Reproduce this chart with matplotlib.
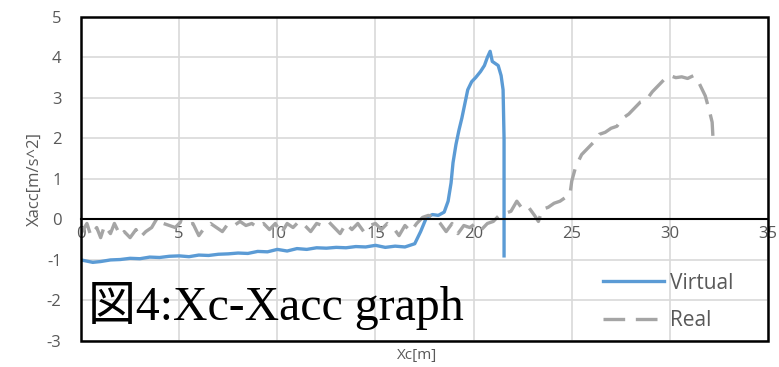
import matplotlib
matplotlib.use("Agg")
import matplotlib.pyplot as plt
from matplotlib.patches import Rectangle

# data
virtual_x = [0, 0.3, 0.6, 1.0, 1.5, 2.0, 2.5, 3.0, 3.5, 4.0, 4.5, 5.0, 5.5, 6.0, 6.5,
             7.0, 7.5, 8.0, 8.5, 9.0, 9.5, 10.0, 10.5, 11.0, 11.5, 12.0, 12.5, 13.0,
             13.5, 14.0, 14.5, 15.0, 15.5, 16.0, 16.5, 17.0, 17.3, 17.6, 17.9, 18.2,
             18.5, 18.7, 18.85, 18.95, 19.1, 19.25, 19.4, 19.55, 19.7, 19.9, 20.1,
             20.35, 20.55, 20.7, 20.84, 20.95, 21.1, 21.25, 21.4, 21.5, 21.55, 21.55]
virtual_y = [-1.0, -1.03, -1.06, -1.04, -1.0, -0.99, -0.96, -0.97, -0.93, -0.94, -0.91,
             -0.9, -0.92, -0.88, -0.89, -0.86, -0.85, -0.83, -0.84, -0.79, -0.8, -0.74,
             -0.78, -0.72, -0.74, -0.7, -0.71, -0.69, -0.7, -0.67, -0.68, -0.64, -0.69,
             -0.66, -0.68, -0.6, -0.3, 0.05, 0.12, 0.1, 0.18, 0.45, 0.9, 1.4, 1.85, 2.2,
             2.5, 2.85, 3.2, 3.4, 3.5, 3.65, 3.8, 4.0, 4.15, 3.9, 3.85, 3.8, 3.55, 3.2,
             2.0, -0.9]

real_x = [0.0, 0.3, 0.5, 0.8, 1.0, 1.2, 1.5, 1.7, 2.0, 2.2, 2.5, 2.8, 3.0, 3.3, 3.6,
          3.9, 4.2, 4.5, 4.8, 5.1, 5.4, 5.7, 6.0, 6.3, 6.6, 6.9, 7.2, 7.5, 7.8, 8.1,
          8.4, 8.7, 9.0, 9.3, 9.6, 9.9, 10.2, 10.5, 10.8, 11.1, 11.4, 11.7, 12.0, 12.3,
          12.6, 12.9, 13.2, 13.5, 13.8, 14.1, 14.4, 14.7, 15.0, 15.3, 15.6, 15.9, 16.2,
          16.5, 16.8, 17.1, 17.4, 17.7, 18.0, 18.3, 18.6, 18.9, 19.2, 19.5, 19.8, 20.1,
          20.4, 20.7, 21.0, 21.3, 21.6, 21.9, 22.2, 22.5, 22.8, 23.1, 23.3, 23.5, 23.8,
          24.1, 24.4, 24.7, 24.9, 25.0, 25.2, 25.5, 25.8, 26.1, 26.4, 26.7, 27.0, 27.3,
          27.6, 27.9, 28.2, 28.5, 28.8, 29.1, 29.4, 29.7, 30.0, 30.3, 30.6, 30.9, 31.2,
          31.5, 31.8, 32.0, 32.15, 32.2]
real_y = [-0.35, -0.1, -0.4, -0.2, -0.45, -0.15, -0.35, -0.1, -0.4, -0.3, -0.45, -0.25,
          -0.45, -0.3, -0.2, 0.05, -0.1, -0.15, -0.2, -0.05, -0.15, -0.1, -0.4, -0.2,
          -0.1, -0.2, -0.3, -0.1, -0.15, -0.05, -0.15, -0.1, -0.2, -0.1, -0.25, -0.1,
          -0.35, -0.1, -0.2, -0.05, -0.15, -0.3, -0.1, -0.15, -0.05, -0.2, -0.35, -0.1,
          -0.25, -0.1, -0.3, -0.15, -0.1, -0.25, -0.1, -0.2, -0.4, -0.15, -0.3, -0.1,
          0.05, 0.1, 0.05, -0.1, -0.3, -0.1, -0.35, -0.15, -0.2, -0.1, -0.25, -0.1,
          -0.05, 0.1, 0.15, 0.2, 0.45, 0.25, 0.3, 0.1, -0.05, 0.25, 0.3, 0.4, 0.45,
          0.55, 0.6, 0.95, 1.3, 1.6, 1.75, 1.9, 2.1, 2.15, 2.25, 2.3, 2.5, 2.6, 2.75,
          2.9, 2.95, 3.15, 3.3, 3.45, 3.55, 3.5, 3.52, 3.48, 3.55, 3.35, 3.05, 2.7,
          2.4, 1.95]

x_ticks = [0, 5, 10, 15, 20, 25, 30, 35]
y_ticks = [-3, -2, -1, 0, 1, 2, 3, 4, 5]

gray_txt = "#595959"
tick_font = "Open Sans"
plt.rcParams["axes.unicode_minus"] = False

fig = plt.figure(figsize=(7.79, 3.67), dpi=100)
ax = fig.add_axes([0.104, 0.071, 0.882, 0.883])

ax.plot(virtual_x, virtual_y, color="#5B9BD5", lw=2.4, label="Virtual")
ax.plot(real_x, real_y, color="#A5A5A5", lw=2.4, dashes=(6.5, 3.2), label="Real")

ax.set_xlim(0, 35)
ax.set_ylim(-3, 5)
ax.set_xticks(x_ticks)
ax.set_yticks(y_ticks)
ax.grid(True, color="#D9D9D9", lw=1.2)
ax.set_axisbelow(True)

# x axis crosses at y = 0 like the Excel chart
ax.spines["bottom"].set_position(("data", 0))
ax.spines["bottom"].set_linewidth(1.5)
for s in ["top", "right", "left"]:
    ax.spines[s].set_visible(False)
ax.add_patch(Rectangle((0, 0), 1, 1, transform=ax.transAxes, fill=False,
                       ec="black", lw=1.8, clip_on=False, zorder=5))

ax.tick_params(axis="both", length=0, labelcolor=gray_txt, labelsize=12)
ax.tick_params(axis="x", pad=5)
ax.tick_params(axis="y", pad=14)
for lab in ax.get_xticklabels() + ax.get_yticklabels():
    lab.set_fontfamily(tick_font)

ax.set_ylabel("Xacc[m/s^2]", color=gray_txt, fontsize=12, family=tick_font, labelpad=3)
fig.text(0.535, 0.032, "Xc[m]", color=gray_txt, fontsize=11, family=tick_font,
         ha="center", va="center")

leg = ax.legend(loc="lower right", bbox_to_anchor=(0.977, -0.028), frameon=False,
                handlelength=2.9, labelspacing=0.8, handletextpad=0.3,
                prop={"family": tick_font, "size": 15})
for t in leg.get_texts():
    t.set_color(gray_txt)

ax.text(0.01, 0.035, "図4:Xc-Xacc graph", transform=ax.transAxes,
        family=["Liberation Serif", "Noto Sans CJK JP"], fontsize=34.5,
        color="black", ha="left", va="bottom", zorder=6)

fig.savefig("out.png", dpi=100)
